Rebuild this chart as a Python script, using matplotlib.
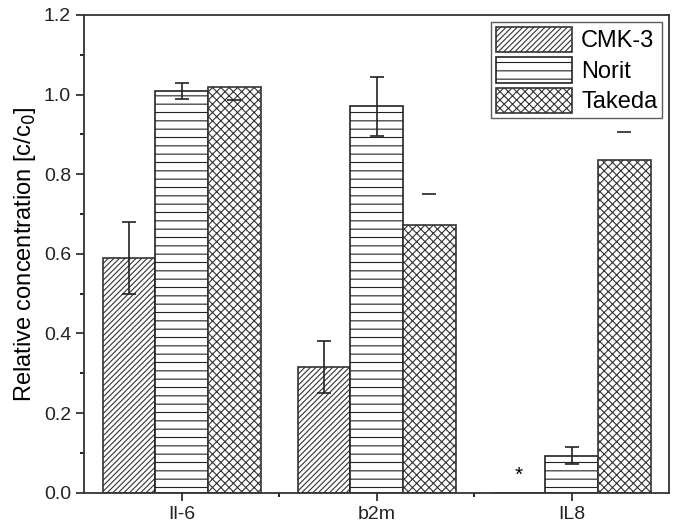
import numpy as np
import matplotlib.pyplot as plt
from matplotlib.ticker import MultipleLocator, FixedLocator

plt.rcParams['font.family'] = ['Liberation Sans', 'DejaVu Sans']
plt.rcParams['hatch.linewidth'] = 0.8

# data
categories = ["Il-6", "b2m", "IL8"]
cmk3 = [0.59, 0.315, 0.0]
cmk3_err = [0.09, 0.065, 0.0]
norit = [1.01, 0.97, 0.093]
norit_err = [0.02, 0.075, 0.022]
takeda = [1.02, 0.672, 0.835]
takeda_cap = [0.985, 0.75, 0.905]   # lone error caps drawn for Takeda

x = np.arange(1, len(categories) + 1)
w = 0.27

fig, ax = plt.subplots(figsize=(6.85, 5.31), dpi=100)
fig.subplots_adjust(left=0.123, right=0.977, top=0.972, bottom=0.072)

ax.bar(x - w, cmk3, w, facecolor='white', edgecolor='#333333', hatch='//////', linewidth=1.2, label='CMK-3')
ax.bar(x, norit, w, facecolor='white', edgecolor='#222222', hatch='--', linewidth=1.2, label='Norit')
ax.bar(x + w, takeda, w, facecolor='white', edgecolor='#333333', hatch='xxxx', linewidth=1.2, label='Takeda')

# error bars
ax.errorbar(x[:2] - w, cmk3[:2], yerr=cmk3_err[:2], fmt='none', ecolor='#222222', elinewidth=1.2, capsize=5, capthick=1.2)
ax.errorbar(x, norit, yerr=norit_err, fmt='none', ecolor='#222222', elinewidth=1.2, capsize=5, capthick=1.2)
ax.plot(x + w, takeda_cap, linestyle='none', marker='_', markersize=10, color='#222222', markeredgewidth=1.2)

# asterisk for CMK-3 on IL8 (not detected)
ax.text(x[2] - w, 0.045, '*', ha='center', va='center', fontsize=15)

ax.set_xlim(0.5, 3.5)
ax.set_ylim(0, 1.2)
ax.set_xticks(x)
ax.set_xticklabels(categories)
ax.xaxis.set_minor_locator(FixedLocator([1.5, 2.5]))
ax.yaxis.set_major_locator(MultipleLocator(0.2))
ax.yaxis.set_minor_locator(MultipleLocator(0.1))
ax.yaxis.set_major_formatter(plt.FuncFormatter(lambda v, p: f"{v:.1f}"))
ax.tick_params(axis='both', which='major', direction='out', length=6, width=1.2, labelsize=14, colors='#222222')
ax.tick_params(axis='both', which='minor', direction='out', length=3, width=1.2)
ax.set_ylabel("Relative concentration [c/c$_0$]", fontsize=17)

for s in ax.spines.values():
    s.set_linewidth(1.3)
    s.set_color('#333333')

leg = ax.legend(loc='upper right', fontsize=17, handlelength=3.2, handleheight=1.3,
                fancybox=False, edgecolor='#333333', borderaxespad=0.3, labelspacing=0.2,
                handletextpad=0.4, borderpad=0.2)
leg.get_frame().set_linewidth(1.0)

plt.savefig('out.png', dpi=100)
